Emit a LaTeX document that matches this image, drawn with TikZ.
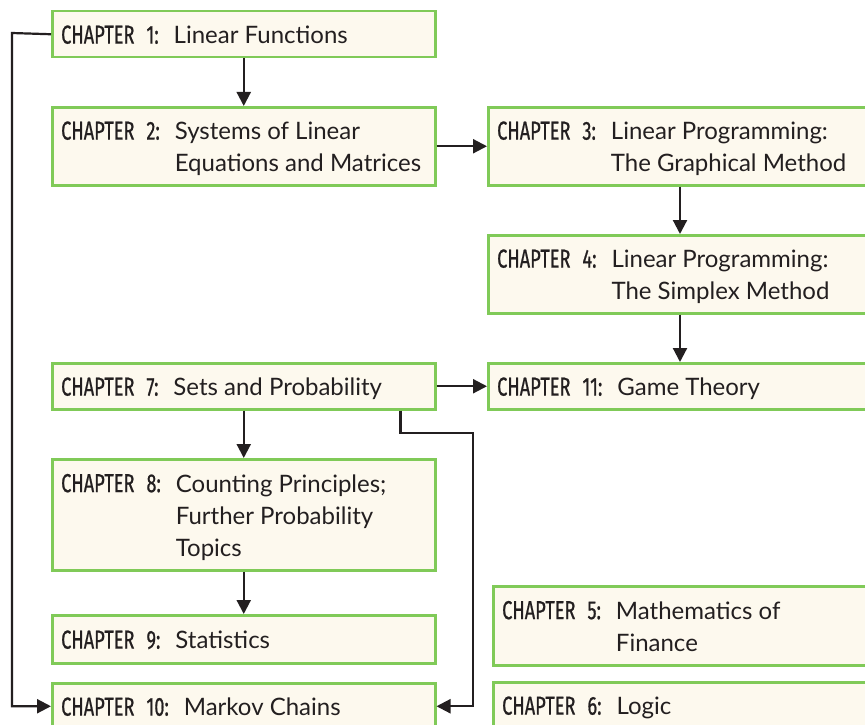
\documentclass[tikz,border=0pt]{standalone}
\usepackage{fontspec}
\setmainfont{Lato}
\newfontfamily\chapfont[FakeStretch=0.7,FakeBold=0.7]{Fira Sans}
\usetikzlibrary{arrows.meta,calc}
\definecolor{boxfill}{RGB}{253,249,238}
\definecolor{boxline}{RGB}{128,202,88}
\definecolor{ink}{RGB}{35,31,32}
\newcommand\chtext[2]{{\chapfont\fontsize{26}{32}\selectfont CHAPTER\hspace{12pt}#1:}\hspace{15pt}\begin{tabular}[t]{@{}l@{}}#2\end{tabular}}
\tikzset{
  box/.style={draw=boxline, fill=boxfill, line width=2.5pt, rectangle, inner sep=0pt, anchor=north west},
  txt/.style={anchor=west, inner sep=0pt, text=ink, font=\fontsize{24}{32}\selectfont, yshift=-3pt},
  arr/.style={draw=ink, line width=2.2pt, -{Triangle[length=14pt,width=14pt]}},
  ln/.style={draw=ink, line width=2.2pt}
}
\begin{document}
\begin{tikzpicture}[x=1pt,y=-1pt]
\clip (0,0) rectangle (865,725);
\fill[white] (0,0) rectangle (865,725);
% boxes
\node[box, minimum width=383pt, minimum height=46pt] (b1) at (51,10) {};
\node[box, minimum width=383pt, minimum height=78pt] (b2) at (51,106) {};
\node[box, minimum width=420pt, minimum height=78pt] (b3) at (487,106) {};
\node[box, minimum width=420pt, minimum height=78pt] (b4) at (487,234) {};
\node[box, minimum width=420pt, minimum height=46pt] (b11) at (487,362) {};
\node[box, minimum width=383pt, minimum height=46pt] (b7) at (51,362) {};
\node[box, minimum width=383pt, minimum height=111pt] (b8) at (51,458) {};
\node[box, minimum width=383pt, minimum height=48pt] (b9) at (51,614) {};
\node[box, minimum width=383pt, minimum height=46pt] (b10) at (51,682) {};
\node[box, minimum width=420pt, minimum height=79pt] (b5) at (492,585) {};
\node[box, minimum width=420pt, minimum height=46pt] (b6) at (492,681) {};
% texts
\node[txt] (t1) at ([xshift=10pt]b1.west) {\chtext{1}{Linear Functions}};
\node[txt] (t2) at ([xshift=10pt]b2.west) {\chtext{2}{Systems of Linear\\Equations and Matrices}};
\node[txt] (t3) at ([xshift=10pt]b3.west) {\chtext{3}{Linear Programming:\\The Graphical Method}};
\node[txt] (t4) at ([xshift=10pt]b4.west) {\chtext{4}{Linear Programming:\\The Simplex Method}};
\node[txt] (t11) at ([xshift=10pt]b11.west) {\chtext{11}{Game Theory}};
\node[txt] (t7) at ([xshift=10pt]b7.west) {\chtext{7}{Sets and Probability}};
\node[txt] (t8) at ([xshift=10pt]b8.west) {\chtext{8}{Counting Principles;\\Further Probability\\Topics}};
\node[txt] (t9) at ([xshift=10pt]b9.west) {\chtext{9}{Statistics}};
\node[txt] (t10) at ([xshift=10pt]b10.west) {\chtext{10}{Markov Chains}};
\node[txt] (t5) at ([xshift=10pt]b5.west) {\chtext{5}{Mathematics of\\Finance}};
\node[txt] (t6) at ([xshift=10pt]b6.west) {\chtext{6}{Logic}};
% connectors
\draw[arr] (b1.south) -- (b2.north);
\draw[arr] (b2.east) -- (b3.west);
\draw[arr] ([xshift=193pt]b3.south west) -- ([xshift=193pt]b4.north west);
\draw[arr] ([xshift=193pt]b4.south west) -- ([xshift=193pt]b11.north west);
\draw[arr] (b7.east) -- (b11.west);
\draw[arr] (b7.south) -- (b8.north);
\draw[arr] (b8.south) -- (b9.north);
\coordinate (L) at (12,33);
\draw[arr] (b1.west) -- (L) |- (b10.west);
\coordinate (K) at (473,433);
\draw[arr] ([xshift=-36pt]b7.south east) |- (K) |- (b10.east);
\end{tikzpicture}
\end{document}
